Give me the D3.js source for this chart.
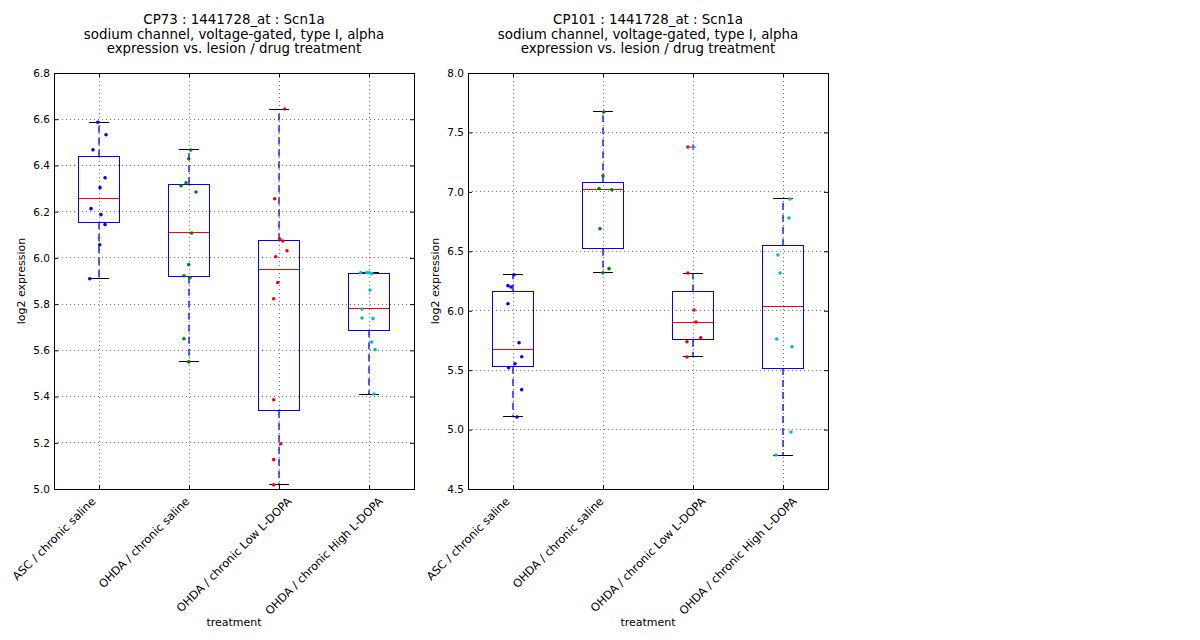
<!DOCTYPE html>
<html>
<head>
<meta charset="utf-8">
<script src="https://cdn.jsdelivr.net/npm/d3@7"></script>
<style>
  body { margin: 0; background: #fff; }
  svg { font-family: 'DejaVu Sans', sans-serif; }
  rect, line.crisp { shape-rendering: crispEdges; }
</style>
</head>
<body>
<script>
const treatments = ['ASC / chronic saline', 'OHDA / chronic saline', 'OHDA / chronic Low L-DOPA', 'OHDA / chronic High L-DOPA']
const pointColors = ['#0000ff', '#008000', '#ff0000', '#00bfbf']

// CP73 values per treatment, with the horizontal jitter of each dot
const cp73Values = [
  [6.587, 6.533, 6.468, 6.347, 6.304, 6.213, 6.187, 6.144, 6.057, 5.910],
  [6.467, 6.429, 6.325, 6.312, 6.285, 6.108, 5.971, 5.923, 5.914, 5.650, 5.550],
  [6.644, 6.256, 6.082, 6.073, 6.031, 6.005, 5.893, 5.823, 5.386, 5.196, 5.127, 5.018],
  [5.936, 5.936, 5.936, 5.932, 5.861, 5.779, 5.740, 5.737, 5.636, 5.603, 5.411]
]
const cp73Jitter = [
  [-0.014, 0.078, -0.067, 0.067, 0.011, -0.089, 0.022, 0.067, 0.008, -0.103],
  [0.019, -0.003, -0.033, -0.089, 0.078, 0.030, -0.003, -0.056, 0.011, -0.056, -0.003],
  [0.063, -0.048, 0.008, 0.044, 0.089, -0.037, -0.014, -0.059, -0.059, 0.019, -0.059, -0.059],
  [-0.092, -0.026, 0.003, 0.030, 0.011, -0.078, -0.078, 0.044, 0.030, 0.067, 0.056]
]
const cp73Ticks = [5.0, 5.2, 5.4, 5.6, 5.8, 6.0, 6.2, 6.4, 6.6, 6.8]

// CP101
const cp101Values = [
  [6.303, 6.211, 6.200, 6.059, 5.731, 5.613, 5.554, 5.521, 5.336, 5.106],
  [7.672, 7.136, 7.027, 7.018, 6.690, 6.354, 6.320],
  [7.377, 6.317, 6.006, 5.905, 5.773, 5.739, 5.611],
  [6.940, 6.780, 6.469, 6.317, 5.762, 5.697, 4.980, 4.786]
]
const cp101Jitter = [
  [0.011, -0.056, -0.022, -0.056, 0.067, 0.097, 0.022, -0.048, 0.097, 0.044],
  [0.008, 0, -0.044, 0.097, -0.033, 0.067, 0],
  [-0.056, -0.056, 0.011, 0.033, 0.086, -0.067, -0.067],
  [0.078, 0.067, -0.056, -0.033, -0.070, 0.100, 0.089, -0.078]
]
const cp101Ticks = [4.5, 5.0, 5.5, 6.0, 6.5, 7.0, 7.5, 8.0]

const width = 360
const height = 416
const boxWidth = 0.45

const svg = d3.select('body').append('svg')
  .attr('width', 1200)
  .attr('height', 640)

function boxStats (values) {
  const s = values.slice().sort(d3.ascending)
  const q1 = d3.quantileSorted(s, 0.25)
  const med = d3.quantileSorted(s, 0.5)
  const q3 = d3.quantileSorted(s, 0.75)
  const iqr = q3 - q1
  const inside = s.filter(v => v >= q1 - 1.5 * iqr && v <= q3 + 1.5 * iqr)
  return {
    q1, med, q3,
    lo: d3.min(inside),
    hi: d3.max(inside),
    fliers: s.filter(v => v < q1 - 1.5 * iqr || v > q3 + 1.5 * iqr)
  }
}

function Panel (left, title, values, jitter, ticks) {
  const g = svg.append('g').attr('transform', 'translate(' + left + ',73)')

  const x = d3.scaleLinear().domain([0.5, 4.5]).range([0, width])
  const y = d3.scaleLinear().domain(d3.extent(ticks)).range([height, 0])
  const positions = treatments.map((t, i) => i + 1)

  // grid
  g.append('g').selectAll('line.h')
    .data(ticks)
    .enter().append('line')
    .attr('class', 'crisp')
    .attr('x1', 0).attr('x2', width)
    .attr('y1', d => y(d)).attr('y2', d => y(d))
    .attr('stroke', '#777').attr('stroke-width', 1)
    .attr('stroke-dasharray', '1,3')
  g.append('g').selectAll('line.v')
    .data(positions)
    .enter().append('line')
    .attr('class', 'crisp')
    .attr('y1', 0).attr('y2', height)
    .attr('x1', d => x(d)).attr('x2', d => x(d))
    .attr('stroke', '#777').attr('stroke-width', 1)
    .attr('stroke-dasharray', '1,3')

  // boxes
  const stats = values.map((v, i) => Object.assign({ pos: i + 1 }, boxStats(v)))
  const box = g.append('g').selectAll('g.box')
    .data(stats)
    .enter().append('g')

  box.selectAll('line.whisker')
    .data(d => [[d.pos, d.q3, d.hi], [d.pos, d.q1, d.lo]])
    .enter().append('line')
    .attr('x1', d => x(d[0])).attr('x2', d => x(d[0]))
    .attr('y1', d => y(d[1])).attr('y2', d => y(d[2]))
    .attr('stroke', '#0000ff').attr('stroke-width', 1.3)
    .attr('stroke-dasharray', '7,5')
  box.selectAll('line.cap')
    .data(d => [[d.pos, d.hi], [d.pos, d.lo]])
    .enter().append('line')
    .attr('class', 'crisp')
    .attr('x1', d => x(d[0] - boxWidth / 4)).attr('x2', d => x(d[0] + boxWidth / 4))
    .attr('y1', d => y(d[1])).attr('y2', d => y(d[1]))
    .attr('stroke', '#000')
  box.append('rect')
    .attr('x', d => x(d.pos - boxWidth / 2))
    .attr('width', x(boxWidth) - x(0))
    .attr('y', d => y(d.q3))
    .attr('height', d => y(d.q1) - y(d.q3))
    .attr('fill', 'none').attr('stroke', '#0000ff')
  box.append('line')
    .attr('class', 'crisp')
    .attr('x1', d => x(d.pos - boxWidth / 2)).attr('x2', d => x(d.pos + boxWidth / 2))
    .attr('y1', d => y(d.med)).attr('y2', d => y(d.med))
    .attr('stroke', '#ff0000')
  box.selectAll('path.flier')
    .data(d => d.fliers.map(f => [d.pos, f]))
    .enter().append('path')
    .attr('d', d => 'M' + (x(d[0]) - 3) + ',' + y(d[1]) + 'h6M' + x(d[0]) + ',' + (y(d[1]) - 3) + 'v6')
    .attr('stroke', '#0000ff').attr('stroke-width', 0.8)

  // dots
  const dots = []
  values.forEach((v, i) => v.forEach((val, j) => dots.push({ pos: i + 1 + jitter[i][j], val, c: pointColors[i] })))
  g.append('g').selectAll('circle')
    .data(dots)
    .enter().append('circle')
    .attr('cx', d => x(d.pos))
    .attr('cy', d => y(d.val))
    .attr('r', 1.8)
    .attr('fill', d => d.c)

  // axes with inward ticks
  const fmt = d3.format('.1f')
  g.append('g').call(d3.axisLeft(y).tickValues(ticks).tickFormat(fmt).tickSizeInner(-4).tickSizeOuter(0).tickPadding(4))
  g.append('g').attr('transform', 'translate(' + width + ',0)')
    .call(d3.axisRight(y).tickValues(ticks).tickFormat('').tickSizeInner(-4).tickSizeOuter(0))
  g.append('g').attr('transform', 'translate(0,' + height + ')')
    .call(d3.axisBottom(x).tickValues(positions).tickFormat('').tickSizeInner(-4).tickSizeOuter(0))
  g.append('g')
    .call(d3.axisTop(x).tickValues(positions).tickFormat('').tickSizeInner(-4).tickSizeOuter(0))
  g.selectAll('.tick line').attr('stroke', '#000')
  g.selectAll('.domain').remove()
  g.selectAll('.tick text').attr('font-size', 10.5).attr('font-family', 'DejaVu Sans').attr('fill', '#000')

  g.append('rect')
    .attr('width', width).attr('height', height)
    .attr('fill', 'none').attr('stroke', '#000')

  // rotated category labels: box of each rotated label centred half a slot left of its tick
  g.append('g').selectAll('text.cat')
    .data(treatments)
    .enter().append('text')
    .attr('text-anchor', 'middle')
    .attr('dy', '0.35em')
    .attr('font-size', 11.3)
    .text(d => d)
    .attr('transform', function (d, i) {
      const h = (this.getComputedTextLength() + 9) * Math.SQRT1_2
      return 'translate(' + x(i + 0.5) + ',' + (height + 7 + h / 2) + ') rotate(-45)'
    })

  g.append('text')
    .attr('x', width / 2).attr('y', 553)
    .attr('text-anchor', 'middle')
    .attr('font-size', 11)
    .text('treatment')

  g.append('text')
    .attr('transform', 'translate(-29,' + height / 2 + ') rotate(-90)')
    .attr('text-anchor', 'middle')
    .attr('font-size', 11)
    .text('log2 expression')

  const titleLines = [title + ' : 1441728_at : Scn1a', 'sodium channel, voltage-gated, type I, alpha', 'expression vs. lesion / drug treatment']
  g.append('text')
    .attr('text-anchor', 'middle')
    .attr('font-size', 13.4)
    .selectAll('tspan')
    .data(titleLines)
    .enter().append('tspan')
    .attr('x', width / 2)
    .attr('y', (d, i) => -49 + i * 14.5)
    .text(d => d)
}

Panel(54, 'CP73', cp73Values, cp73Jitter, cp73Ticks)
Panel(468, 'CP101', cp101Values, cp101Jitter, cp101Ticks)
</script>
</body>
</html>
